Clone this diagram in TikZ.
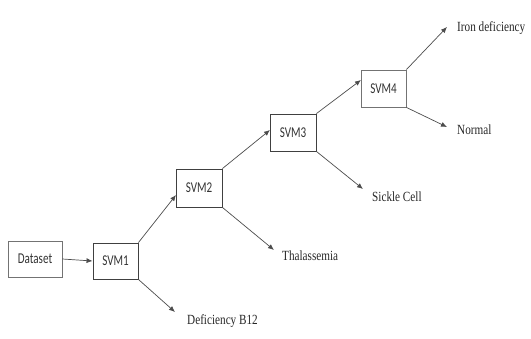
\documentclass[tikz,border=0pt]{standalone}
\usepackage{fontspec}
\setmainfont{Liberation Serif}
\newfontfamily\boxfont[FakeStretch=0.74]{Carlito}
\newfontfamily\lblfont[FakeStretch=0.8]{Liberation Serif}
\usetikzlibrary{arrows.meta}
\begin{document}
\begin{tikzpicture}[x=1pt,y=-1pt,
  svmbox/.style={draw=black!75,line width=0.9pt,minimum height=37pt,inner sep=0pt,font=\boxfont\fontsize{15}{15}\selectfont,text=black!80},
  lbl/.style={anchor=base west,inner sep=0pt,font=\lblfont\fontsize{14}{14}\selectfont,text=black!85},
  conn/.style={draw=black!70,line width=0.7pt,-{Latex[length=6pt,width=5pt]}}]
\useasboundingbox (0,0) rectangle (531,338);
\node[svmbox,minimum width=54pt,minimum height=36pt,draw=black!55] (ds) at (35,259) {Dataset};
\node[svmbox,minimum width=45pt,minimum height=36pt] (s1) at (115.5,261) {SVM1};
\node[svmbox,minimum width=46pt,minimum height=38pt] (s2) at (199,188) {SVM2};
\node[svmbox,minimum width=46pt] (s3) at (293,132.5) {SVM3};
\node[svmbox,minimum width=45pt,draw=black!55] (s4) at (383.5,88.5) {SVM4};
\node[lbl] (b12) at (187,324) {Deficiency B12};
\node[lbl] (tha) at (282,260) {Thalassemia};
\node[lbl] (sic) at (372,201) {Sickle Cell};
\node[lbl] (iro) at (457,31) {Iron deficiency};
\node[lbl] (nor) at (457,134) {Normal};
\coordinate (e1) at (175,312);
\coordinate (e2) at (274,250);
\coordinate (e3) at (363,189);
\coordinate (e4) at (447,27);
\coordinate (e5) at (447,127);
\coordinate (m1) at (176,195);
\coordinate (m2) at (270,130);
\coordinate (m3) at (361,80);
\draw[conn] (ds.east) -- (s1.west);
\draw[conn] (s1.north east) -- (m1);
\draw[conn] (s1.south east) -- (e1);
\draw[conn] (s2.north east) -- (m2);
\draw[conn] (s2.south east) -- (e2);
\draw[conn] (s3.north east) -- (m3);
\draw[conn] (s3.south east) -- (e3);
\draw[conn] (s4.north east) -- (e4);
\draw[conn] (s4.south east) -- (e5);
\end{tikzpicture}
\end{document}
